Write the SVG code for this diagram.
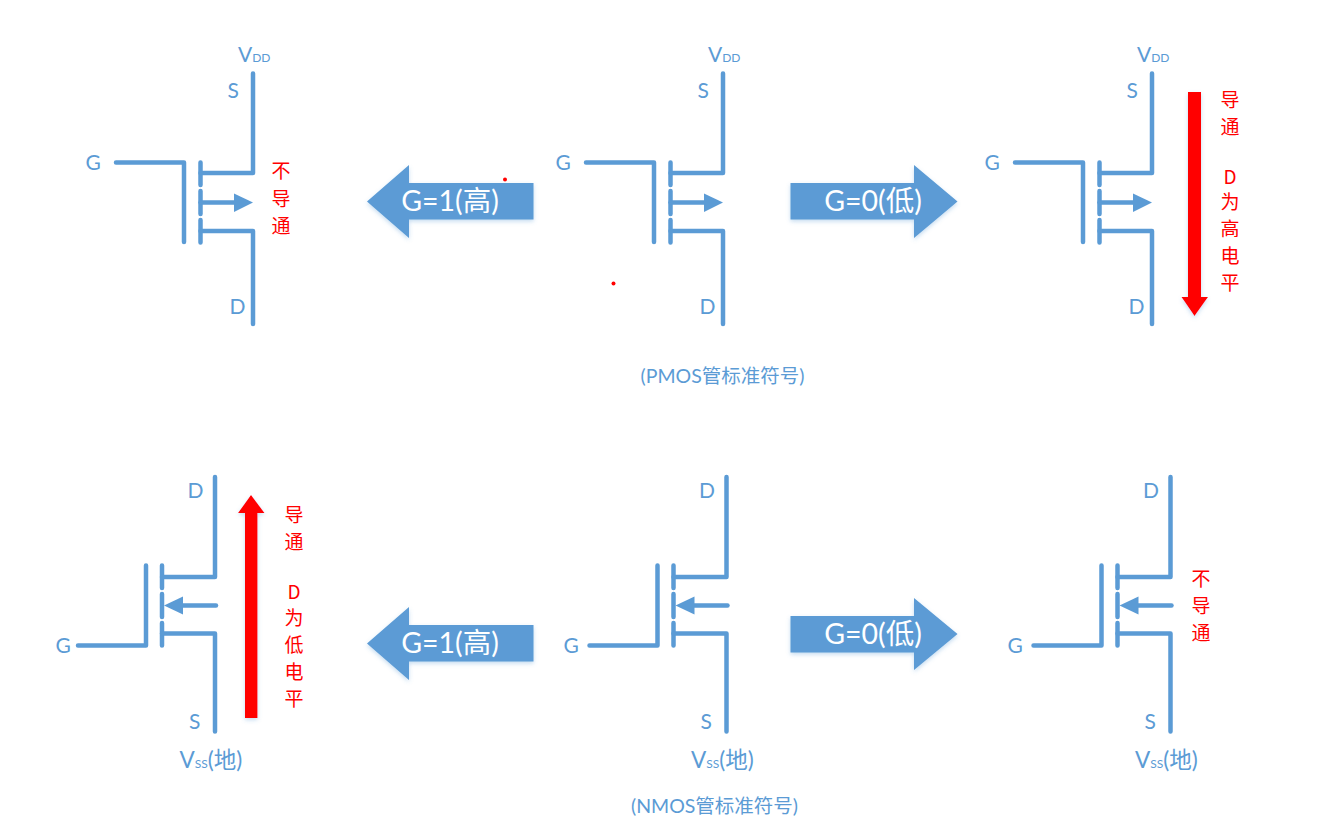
<svg xmlns="http://www.w3.org/2000/svg" width="1338" height="828" viewBox="0 0 1338 828">
<style>
.w{fill:none;stroke:#5b9bd5;stroke-width:4.500;stroke-linecap:round;stroke-linejoin:round}
.h{fill:#5b9bd5}
.l{font-family:"Lato","Noto Sans CJK SC",sans-serif;fill:#5b9bd5;font-size:21px}
.s{font-size:12px}
.v{font-size:22.500px}
.c{font-family:"Lato","Noto Sans CJK SC",sans-serif;fill:#5b9bd5;font-size:19.500px;text-anchor:middle}
.r{font-family:"Noto Sans CJK SC","Liberation Sans",sans-serif;fill:#ff0000;font-size:19px;text-anchor:middle}
.a{fill:#5b9bd5;filter:url(#sh)}
.ra{fill:#ff0000;filter:url(#sh)}
.at{font-family:"Lato","Noto Sans CJK SC",sans-serif;fill:#fff;font-size:28.500px;text-anchor:middle}
</style>
<defs>
<filter id="sh" x="-10%" y="-10%" width="120%" height="125%">
<feDropShadow dx="0" dy="2" stdDeviation="2" flood-color="#5b9bd5" flood-opacity="0.35"/>
</filter>
<g id="pmos">
<path class="w" d="M116 162.500H184V242"/>
<path class="w" d="M200.500 162.500V185M200.500 191V214M200.500 220V242.500"/>
<path class="w" d="M200.500 173H253V73.500"/>
<path class="w" d="M200.500 231H253V324"/>
<path class="w" d="M200.500 202.500H236"/>
<path class="h" d="M234 193.500L253 202.500L234 212Z"/>
<text class="l" x="238" y="62">V<tspan class="s">DD</tspan></text>
<text class="l" x="227.500" y="98">S</text>
<text class="l" x="85.500" y="170">G</text>
<text class="l" x="229.500" y="314">D</text>
</g>
<g id="nmos">
<path class="w" d="M78 645.500H146V565.500"/>
<path class="w" d="M162 565.500V588M162 594V617M162 623V645.500"/>
<path class="w" d="M162 577H215V477"/>
<path class="w" d="M162 633.500H215V731.500"/>
<path class="w" d="M216 605.500H180"/>
<path class="h" d="M183 596.500L164 605.500L183 614.500Z"/>
<text class="l" x="187.500" y="498">D</text>
<text class="l" x="189" y="729">S</text>
<text class="l v" x="179.500" y="768">V<tspan class="s">SS</tspan>(地)</text>
</g>
</defs>
<g id="pmos-off"><use href="#pmos"/></g>
<g id="pmos-std"><use href="#pmos" x="470"/></g>
<g id="pmos-on"><use href="#pmos" x="899"/></g>
<g id="nmos-on"><use href="#nmos"/><text class="l" x="55.500" y="653">G</text></g>
<g id="nmos-std"><use href="#nmos" x="511.500"/><text class="l" x="563.500" y="653">G</text></g>
<g id="nmos-off"><use href="#nmos" x="955.500"/><text class="l" x="1007.500" y="653">G</text></g>
<g id="connectors">
<path class="ra" d="M1188 92H1201V297H1208L1194.500 316L1181.500 297H1188Z"/>
<path class="ra" d="M245 718H257.500V513H264.500L251 495L238 513H245Z"/>
</g>
<g id="arrow-pmos-high">
<path class="a" d="M533.500 183V219.500H409V238L367 201.500L409 165V183Z"/>
<text class="at" x="450" y="211">G=1(高)</text>
</g>
<g id="arrow-pmos-low">
<path class="a" d="M790.500 183V219.500H914V238L957.500 201.500L914 165V183Z"/>
<text class="at" x="873" y="211">G=0(低)</text>
</g>
<g id="arrow-nmos-high">
<path class="a" d="M533.500 625V661.500H409V680L367 643.500L409 607V625Z"/>
<text class="at" x="450" y="653">G=1(高)</text>
</g>
<g id="arrow-nmos-low">
<path class="a" d="M790.500 616V652.500H914V670L957.500 634L914 598V616Z"/>
<text class="at" x="873" y="644">G=0(低)</text>
</g>
<g id="labels-red">
<text class="r" x="281" y="178">不</text><text class="r" x="281" y="206">导</text><text class="r" x="281" y="233">通</text>
<text class="r" x="1230" y="107">导</text><text class="r" x="1230" y="134">通</text><text class="r" x="1230" y="184">D</text><text class="r" x="1230" y="209">为</text><text class="r" x="1230" y="236">高</text><text class="r" x="1230" y="263">电</text><text class="r" x="1230" y="290">平</text>
<text class="r" x="294" y="522">导</text><text class="r" x="294" y="549">通</text><text class="r" x="294" y="599">D</text><text class="r" x="294" y="625">为</text><text class="r" x="294" y="652">低</text><text class="r" x="294" y="679">电</text><text class="r" x="294" y="706">平</text>
<text class="r" x="1201" y="586">不</text><text class="r" x="1201" y="613">导</text><text class="r" x="1201" y="640">通</text>
</g>
<text class="c" x="722.500" y="383">(PMOS管标准符号)</text>
<text class="c" x="714.500" y="813">(NMOS管标准符号)</text>
<circle cx="505" cy="179.500" r="2" fill="#ff0000"/>
<circle cx="613.500" cy="283.500" r="2" fill="#ff0000"/>
</svg>
